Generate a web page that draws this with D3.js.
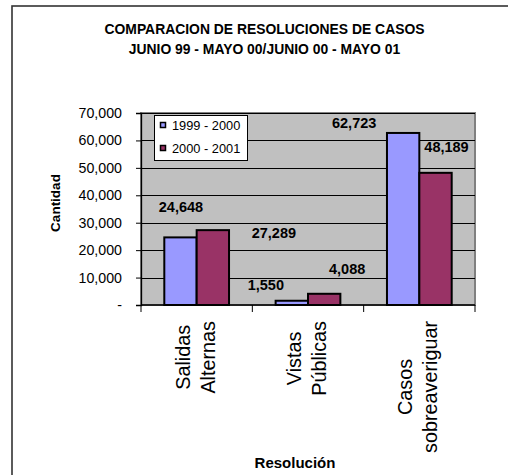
<!DOCTYPE html>
<html>
<head>
<meta charset="utf-8">
<script src="https://cdn.jsdelivr.net/npm/d3@7"></script>
<style>
  html, body { margin: 0; padding: 0; background: #fff; }
  svg { display: block; font-family: "Liberation Sans", Arial, sans-serif; }
</style>
</head>
<body>
<svg id="chart" width="508" height="475"></svg>
<script>
// ---- data ----
const categories = ["Salidas Alternas", "Vistas Públicas", "Casos sobreaveriguar"];
const seriesNames = ["1999 - 2000", "2000 - 2001"];
const values1999 = [24648, 1550, 62723];
const values2000 = [27289, 4088, 48189];
const yTicks = [0, 10000, 20000, 30000, 40000, 50000, 60000, 70000];
const titleLines = ["COMPARACION DE RESOLUCIONES DE CASOS", "JUNIO 99 - MAYO 00/JUNIO 00 - MAYO 01"];
const yTitle = "Cantidad";
const xTitle = "Resolución";

// ---- styles / layout ----
const colors = ["#9999ff", "#993366"];
// data label nudges (dx from bar centre, dy from bar top), as placed in the original
const labelNudge = [
  [[0.5, -30.5], [61, 3]],
  [[-26, -16], [23, -25]],
  [[-49, -10], [11, -26]]
];

const svg = d3.select("#chart");
const font = '"Liberation Sans", Arial, sans-serif';

// outer frame
svg.append("rect")
  .attr("x", 12).attr("y", 6).attr("width", 530).attr("height", 500)
  .attr("fill", "#fff").attr("stroke", "#333").attr("stroke-width", 1.6);

// title
svg.append("g").selectAll("text").data(titleLines).join("text")
  .attr("x", 264.5).attr("y", (d, i) => 34 + i * 20)
  .attr("text-anchor", "middle")
  .attr("font-size", 13.9).attr("font-weight", "bold")
  .text(d => d);

const plot = { left: 141, right: 475, top: 113, bottom: 305 };

const x = d3.scaleBand().domain(categories).range([plot.left, plot.right]).paddingInner(0).paddingOuter(0);
const xs = d3.scaleBand().domain([0, 1]).range([0, x.bandwidth()]).paddingInner(0).paddingOuter(0.72);
const y = d3.scaleLinear().domain([0, 70000]).range([plot.bottom, plot.top]);

// plot background
svg.append("rect")
  .attr("x", plot.left).attr("y", plot.top)
  .attr("width", plot.right - plot.left).attr("height", plot.bottom - plot.top)
  .attr("fill", "#c0c0c0").attr("stroke", "#808080").attr("stroke-width", 2);

// gridlines
svg.append("g").selectAll("line").data(yTicks.filter(d => d > 0)).join("line")
  .attr("x1", plot.left).attr("x2", plot.right)
  .attr("y1", d => Math.round(y(d)) + 0.5).attr("y2", d => Math.round(y(d)) + 0.5)
  .attr("stroke", "#000").attr("stroke-width", 1);

// y axis
const yAxis = svg.append("g")
  .attr("transform", `translate(${plot.left},0)`)
  .call(d3.axisLeft(y).tickValues(yTicks)
    .tickFormat(d => d === 0 ? "-" : d3.format(",")(d))
    .tickSize(5).tickPadding(14));
yAxis.select(".domain").attr("stroke", "#000").attr("stroke-width", 1.3);
yAxis.selectAll(".tick line").attr("stroke", "#000");
yAxis.selectAll(".tick text").attr("font-family", font).attr("font-size", 14.2).attr("fill", "#000");

// series data
const series = [values1999, values2000];
const bars = [];
categories.forEach((c, ci) => {
  series.forEach((vals, si) => bars.push({ c, ci, si, v: vals[ci] }));
});

// bars
svg.append("g").selectAll("rect").data(bars).join("rect")
  .attr("x", d => x(d.c) + xs(d.si))
  .attr("y", d => y(d.v))
  .attr("width", xs.bandwidth())
  .attr("height", d => y(0) - y(d.v))
  .attr("fill", d => colors[d.si])
  .attr("stroke", "#000").attr("stroke-width", 2);

// x axis line + boundary ticks
svg.append("line")
  .attr("x1", plot.left).attr("x2", plot.right)
  .attr("y1", plot.bottom).attr("y2", plot.bottom)
  .attr("stroke", "#000").attr("stroke-width", 1.5);
const bounds = categories.map(c => x(c)).concat([x(categories[categories.length - 1]) + x.bandwidth()]);
svg.append("g").selectAll("line").data(bounds).join("line")
  .attr("x1", d => d).attr("x2", d => d)
  .attr("y1", plot.bottom).attr("y2", plot.bottom + 7)
  .attr("stroke", "#000").attr("stroke-width", 1);

// category labels (rotated, lines centred in a block that starts below the axis)
categories.forEach(c => {
  const g = svg.append("g")
    .attr("transform", `translate(${x(c) + x.bandwidth() / 2},${plot.bottom + 16}) rotate(-90)`);
  const lines = c.split(" ");
  const t = g.selectAll("text").data(lines).join("text")
    .attr("y", (d, i) => -7 + i * 25)
    .attr("text-anchor", "middle")
    .attr("font-size", 19.8)
    .text(d => d);
  let maxLen = 0;
  t.each(function () { maxLen = Math.max(maxLen, this.getComputedTextLength()); });
  t.attr("x", -maxLen / 2);
});

// data labels
svg.append("g").selectAll("text").data(bars).join("text")
  .attr("x", d => x(d.c) + xs(d.si) + xs.bandwidth() / 2 + labelNudge[d.ci][d.si][0])
  .attr("y", d => y(d.v) + labelNudge[d.ci][d.si][1] + 5)
  .attr("text-anchor", "middle")
  .attr("font-size", 14.5).attr("font-weight", "bold")
  .text(d => d3.format(",")(d.v));

// legend
const lg = svg.append("g");
lg.append("rect")
  .attr("x", 154.5).attr("y", 115.5).attr("width", 93).attr("height", 45)
  .attr("fill", "#fff").attr("stroke", "#000").attr("stroke-width", 1);
seriesNames.forEach((s, i) => {
  lg.append("rect")
    .attr("x", 160.5).attr("y", 122.5 + i * 23).attr("width", 5).attr("height", 5)
    .attr("fill", colors[i]).attr("stroke", "#000").attr("stroke-width", 1.5);
  lg.append("text")
    .attr("x", 172).attr("y", 130 + i * 23)
    .attr("font-size", 12.8)
    .text(s);
});

// axis titles
svg.append("text")
  .attr("transform", `translate(60,203) rotate(-90)`)
  .attr("text-anchor", "middle")
  .attr("font-size", 13.5).attr("font-weight", "bold")
  .text(yTitle);
svg.append("text")
  .attr("x", 295).attr("y", 468)
  .attr("text-anchor", "middle")
  .attr("font-size", 15).attr("font-weight", "bold")
  .text(xTitle);
</script>
</body>
</html>
